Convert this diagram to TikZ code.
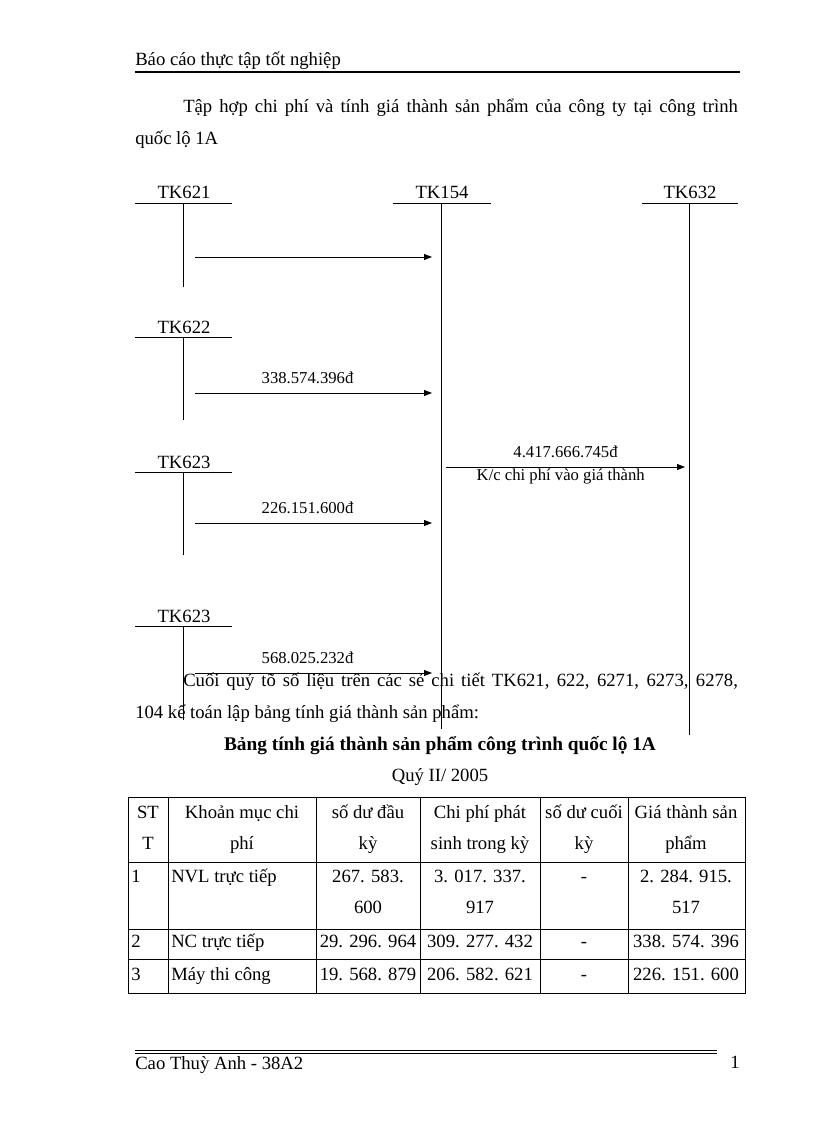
\documentclass[tikz,border=0pt]{standalone}
\usepackage{fontspec}
\setmainfont{Liberation Serif}
\usetikzlibrary{arrows.meta, positioning}

\begin{document}
\begin{tikzpicture}[
    x=0.75pt, y=-0.75pt,
    txt/.style={font=\fontsize{14}{24}\selectfont, inner sep=0pt, anchor=base west},
    acct/.style={font=\fontsize{14}{16}\selectfont, inner sep=0pt, anchor=base},
    amount/.style={font=\fontsize{12.5}{14}\selectfont, inner sep=0pt},
    cell/.style={font=\fontsize{14}{16}\selectfont, inner sep=0pt, anchor=base},
    tline/.style={line width=0.6pt},
    arrow/.style={-{Triangle[length=6pt,width=4.5pt]}, line width=0.6pt}
]
\useasboundingbox (0,0) rectangle (816,1123);

% Header
\node (header) [txt] at (135,66) {Báo cáo thực tập tốt nghiệp};
\draw[line width=1.5pt] (135,72) -- (740,72);

\node (intro1) [txt] at (183,113) {\makebox[416pt][s]{Tập hợp chi phí và tính giá thành sản phẩm của công ty tại công trình}};
\node (intro2) [txt] at (135,145) {quốc lộ 1A};

% Accounts
\node (tk621) [acct] at (184,199) {TK621};
\node (tk154) [acct] at (442,199) {TK154};
\node (tk632) [acct] at (690,199) {TK632};
\node (tk622) [acct] at (184,333) {TK622};
\node (tk623) [acct] at (184,468) {TK623};
\node (tk623b) [acct] at (184,622) {TK623};

\draw[tline] (135,203) -- (232,203) (183,203) -- (183,287);
\draw[tline] (393,203) -- (491,203) (441,203) -- (441,729);
\draw[tline] (642,203) -- (738,203) (689,203) -- (689,735);
\draw[tline] (135,337) -- (232,337) (183,337) -- (183,420);
\draw[tline] (135,472) -- (232,472) (183,472) -- (183,555);
\draw[tline] (135,626) -- (232,626) (183,626) -- (183,720);

% Arrow ends
\coordinate (s621) at (195,257);  \coordinate (e621) at (432,257);
\coordinate (s622) at (195,393);  \coordinate (e622) at (432,393);
\coordinate (s623) at (195,523);  \coordinate (e623) at (432,523);
\coordinate (s623b) at (195,673); \coordinate (e623b) at (432,673);
\coordinate (s154) at (446,467);  \coordinate (e154) at (685,467);

% Paths
\draw [arrow] (s621) -- (e621);
\draw [arrow] (s622) -- (e622) node[amount, pos=0.475, above=6.5pt] (v622) {338.574.396đ};
\draw [arrow] (s623) -- (e623) node[amount, pos=0.475, above=6.5pt] (v623) {226.151.600đ};
\draw [arrow] (s623b) -- (e623b) node[amount, pos=0.475, above=6.5pt] (v623b) {568.025.232đ};
\draw [arrow] (s154) -- (e154) node[amount, midway, above=7pt] (v154) {4.417.666.745đ}
    node[amount, pos=0.48, below=1.5pt] (kc) {K/c chi phí vào giá thành};

\node (para1) [txt] at (183,686) {\makebox[416pt][s]{Cuối quý tõ số liệu trên các sẻ chi tiết TK621, 622, 6271, 6273, 6278,}};
\node (para2) [txt] at (135,718) {104 kế toán lập bảng tính giá thành sản phẩm:};

\node (title) [cell, font=\fontsize{14.5}{16}\selectfont\bfseries] at (440,750) {Bảng tính giá thành sản phẩm công trình quốc lộ 1A};
\node (quarter) [cell] at (440,781) {Quý II/ 2005};

% Table
\draw[tline] (128,797) rectangle (745,993);
\draw[tline] (168,797) -- (168,993) (316,797) -- (316,993) (420,797) -- (420,993)
    (540,797) -- (540,993) (628,797) -- (628,993);
\draw[tline] (128,862) -- (745,862) (128,929) -- (745,929) (128,959) -- (745,959);

\node (h1a) [cell] at (148,818) {ST};           \node (h1b) [cell] at (148,849) {T};
\node (h2a) [cell] at (242,818) {Khoản mục chi}; \node (h2b) [cell] at (242,849) {phí};
\node (h3a) [cell] at (368,818) {số dư đầu};     \node (h3b) [cell] at (368,849) {kỳ};
\node (h4a) [cell] at (480,818) {Chi phí phát};  \node (h4b) [cell] at (480,849) {sinh trong kỳ};
\node (h5a) [cell] at (584,818) {số dư cuối};    \node (h5b) [cell] at (584,849) {kỳ};
\node (h6a) [cell] at (686,818) {Giá thành sản}; \node (h6b) [cell] at (686,849) {phẩm};

\node (r1a) [cell, anchor=base west] at (131,882) {1};
\node (r1b) [cell, anchor=base west] at (171,882) {NVL trực tiếp};
\node (r1c) [cell] at (368,882) {267. 583.};     \node (r1c2) [cell] at (368,913) {600};
\node (r1d) [cell] at (480,882) {3. 017. 337.};  \node (r1d2) [cell] at (480,913) {917};
\node (r1e) [cell] at (584,882) {-};
\node (r1f) [cell] at (686,882) {2. 284. 915.};  \node (r1f2) [cell] at (686,913) {517};

\node (r2a) [cell, anchor=base west] at (131,947) {2};
\node (r2b) [cell, anchor=base west] at (171,947) {NC trực tiếp};
\node (r2c) [cell] at (368,947) {29. 296. 964};
\node (r2d) [cell] at (480,947) {309. 277. 432};
\node (r2e) [cell] at (584,947) {-};
\node (r2f) [cell] at (686,947) {338. 574. 396};

\node (r3a) [cell, anchor=base west] at (131,980) {3};
\node (r3b) [cell, anchor=base west] at (171,980) {Máy thi công};
\node (r3c) [cell] at (368,980) {19. 568. 879};
\node (r3d) [cell] at (480,980) {206. 582. 621};
\node (r3e) [cell] at (584,980) {-};
\node (r3f) [cell] at (686,980) {226. 151. 600};

% Footer
\draw[tline] (135,1050) -- (717,1050) (135,1053) -- (717,1053);
\node (author) [txt] at (135,1069) {Cao Thuỳ Anh - 38A2};
\node (page) [txt] at (730,1068) {1};

\end{tikzpicture}
\end{document}
